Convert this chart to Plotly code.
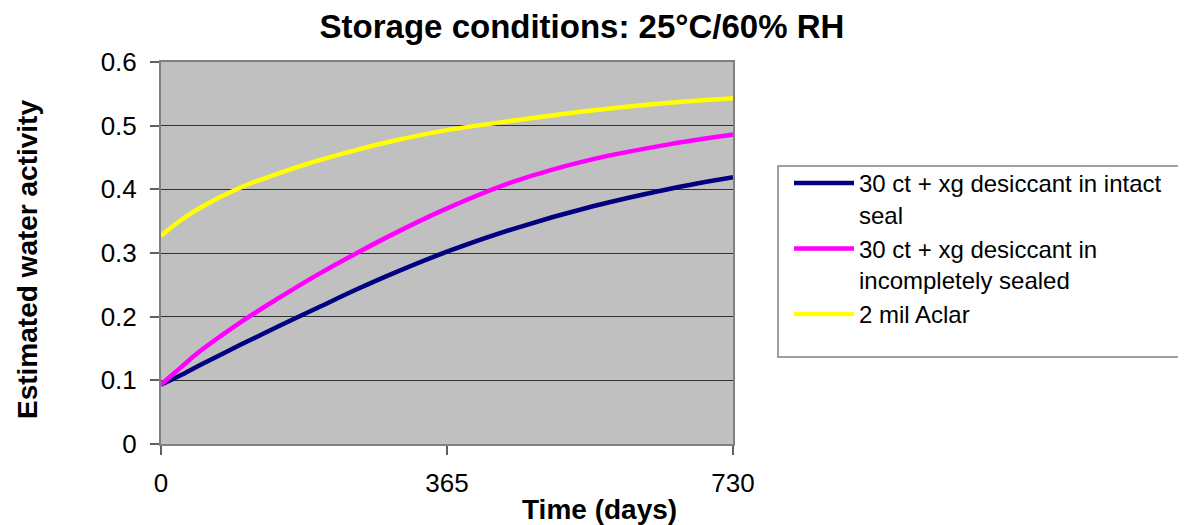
import plotly.graph_objects as go

days = [0, 10, 25, 50, 100, 150, 200, 250, 300, 365, 450, 550, 650, 730]
intact = [0.093, 0.099, 0.108, 0.124, 0.155, 0.185, 0.214, 0.243, 0.270, 0.302, 0.338, 0.373, 0.401, 0.419]
incomplete = [0.093, 0.104, 0.120, 0.146, 0.190, 0.229, 0.266, 0.300, 0.332, 0.370, 0.412, 0.447, 0.471, 0.486]
aclar = [0.327, 0.337, 0.351, 0.371, 0.402, 0.425, 0.445, 0.462, 0.477, 0.493, 0.508, 0.524, 0.536, 0.543]

names = ["30 ct + xg desiccant in intact<br>seal",
         "30 ct + xg desiccant in<br>incompletely sealed",
         "2 mil Aclar"]
colors = ["#000080", "#FF00FF", "#FFFF00"]
series = [intact, incomplete, aclar]

x_ticks = [0, 365, 730]
y_ticks = [0, 0.1, 0.2, 0.3, 0.4, 0.5, 0.6]

FONT = "Arial, Liberation Sans, sans-serif"

W, H = 1178, 517          # page adds an 8px body margin
L, T, PW, PH = 153, 54, 572, 382

fig = go.Figure()
for name, col, vals in zip(names, colors, series):
    fig.add_trace(go.Scatter(x=days, y=vals, mode="lines", name=name,
                             line=dict(color=col, width=4.5, shape="spline")))

fig.update_layout(
    width=W, height=H,
    margin=dict(l=L, r=W - L - PW, t=T, b=H - T - PH, autoexpand=False),
    paper_bgcolor="white",
    plot_bgcolor="#C0C0C0",
    font=dict(family=FONT, size=25, color="black"),
    title=dict(text="<b>Storage conditions: 25°C/60% RH</b>", x=574 / W, xanchor="center",
               xref="container", y=1 - 18 / H, yanchor="middle", yref="container",
               font=dict(size=33, family=FONT)),
    showlegend=True,
    legend=dict(x=(781 - L) / PW, xanchor="left", y=(T + PH - 153) / PH, yanchor="top",
                xref="paper", yref="paper",
                bgcolor="rgba(0,0,0,0)", borderwidth=0, itemwidth=60,
                valign="top", font=dict(size=24, family=FONT),
                traceorder="normal"),
)

fig.update_xaxes(range=[0, 730], tickvals=x_ticks, ticktext=[str(v) for v in x_ticks],
                 showgrid=False, zeroline=False, showline=True, linecolor="#808080",
                 linewidth=2, mirror=True, ticks="outside", ticklen=9, tickcolor="#606060",
                 tickwidth=1.5, tickfont=dict(size=26), ticklabelstandoff=6)
fig.update_yaxes(range=[0, 0.6], tickvals=y_ticks, ticktext=[f"{v:g}" for v in y_ticks],
                 showgrid=True, gridcolor="#303030", gridwidth=1.2, zeroline=False,
                 showline=True, linecolor="#808080", linewidth=2, mirror=True,
                 ticks="outside", ticklen=9, tickcolor="#606060", tickwidth=1.5,
                 tickfont=dict(size=26), ticklabelstandoff=8)

# axis titles
fig.add_annotation(text="<b>Time (days)</b>", xref="paper", yref="paper",
                   x=(591 - L) / PW, y=-(502 - (T + PH)) / PH, xanchor="center", yanchor="middle",
                   showarrow=False, font=dict(size=28, family=FONT))
fig.add_annotation(text="<b>Estimated water activity</b>", xref="paper", yref="paper",
                   x=-(L - 20) / PW, y=(T + PH - 252) / PH, xanchor="center", yanchor="middle",
                   textangle=-90, showarrow=False, font=dict(size=28, family=FONT))

# legend box
fig.add_shape(type="rect", xref="paper", yref="paper",
              x0=(770 - L) / PW, x1=(1200 - L) / PW,
              y0=(T + PH - 349) / PH, y1=(T + PH - 158) / PH,
              line=dict(color="#808080", width=1.5), fillcolor="rgba(0,0,0,0)", layer="below")

fig.write_html("out.html")
